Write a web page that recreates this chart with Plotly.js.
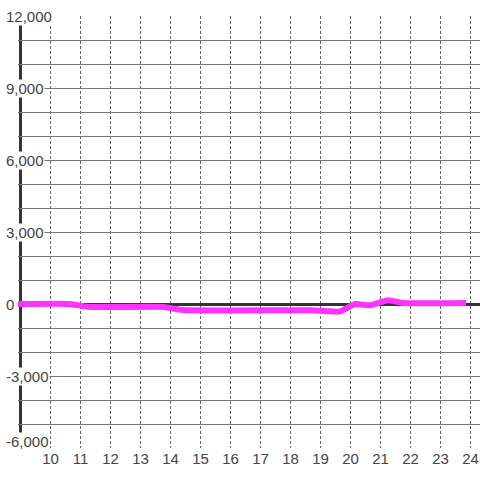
<!DOCTYPE html>
<html>
<head>
<meta charset="utf-8">
<script src="https://cdn.plot.ly/plotly-3.0.1.min.js"></script>
<style>
html,body{margin:0;padding:0;background:#fff;}
#chart{width:480px;height:480px;}
</style>
</head>
<body>
<div id="chart"></div>
<script>
// Series (hour of day vs value)
var hours = [8.9, 10.65, 11.25, 13.75, 14.4, 18.7, 19.2, 19.65, 20.15, 20.65, 21.25, 21.75, 23.85];
var values = [0, 0, -120, -120, -250, -260, -300, -310, 0, -50, 160, 40, 40];

// Axis ticks
var xTicks = [10, 11, 12, 13, 14, 15, 16, 17, 18, 19, 20, 21, 22, 23, 24];
var yGrid = [-6000, -5000, -4000, -3000, -2000, -1000, 0, 1000, 2000, 3000, 4000, 5000, 6000, 7000, 8000, 9000, 10000, 11000, 12000];
var yTickVals = [-6000, -3000, 0, 3000, 6000, 9000, 12000];
var yTickText = ['-6,000', '-3,000', '0', '3,000', '6,000', '9,000', '12,000'];

var font = 'Liberation Sans, Arial, sans-serif';
var labelColor = '#444';
var yMin = Math.min.apply(null, yTickVals);

var annotations = yTickVals.map(function (v, i) {
  return {
    xref: 'paper', yref: 'y',
    x: -0.028, y: v,
    xanchor: 'left', yanchor: 'middle',
    yshift: v === yMin ? 7 : 0,
    text: yTickText[i],
    showarrow: false,
    bgcolor: '#ffffff',
    borderpad: 0,
    font: {family: font, size: 15, color: labelColor}
  };
});

var trace = {
  type: 'scatter',
  mode: 'lines',
  x: hours,
  y: values,
  line: {color: '#ff33ff', width: 6, shape: 'spline', smoothing: 0.5},
  hoverinfo: 'skip'
};

var layout = {
  width: 480, height: 480,
  margin: {l: 18, r: 0, t: 16, b: 32},
  paper_bgcolor: '#ffffff',
  plot_bgcolor: '#ffffff',
  showlegend: false,
  xaxis: {
    range: [8.9167, 24.3167],
    tickvals: xTicks,
    ticktext: xTicks.map(String),
    showgrid: true,
    gridcolor: '#666',
    gridwidth: 1,
    griddash: '3px,2px',
    zeroline: false,
    showline: false,
    ticks: '',
    tickfont: {family: font, size: 15, color: labelColor}
  },
  yaxis: {
    range: [-6000, 12000],
    tickvals: yGrid,
    showticklabels: false,
    showgrid: true,
    gridcolor: '#777',
    gridwidth: 1,
    zeroline: true,
    zerolinecolor: '#333',
    zerolinewidth: 3,
    showline: false,
    ticks: ''
  },
  shapes: [{
    type: 'line', xref: 'x', yref: 'paper',
    x0: 9, x1: 9, y0: 0, y1: 1,
    line: {color: '#333', width: 3},
    layer: 'between'
  }],
  annotations: annotations
};

Plotly.newPlot('chart', [trace], layout, {displayModeBar: false, staticPlot: true});
</script>
</body>
</html>
